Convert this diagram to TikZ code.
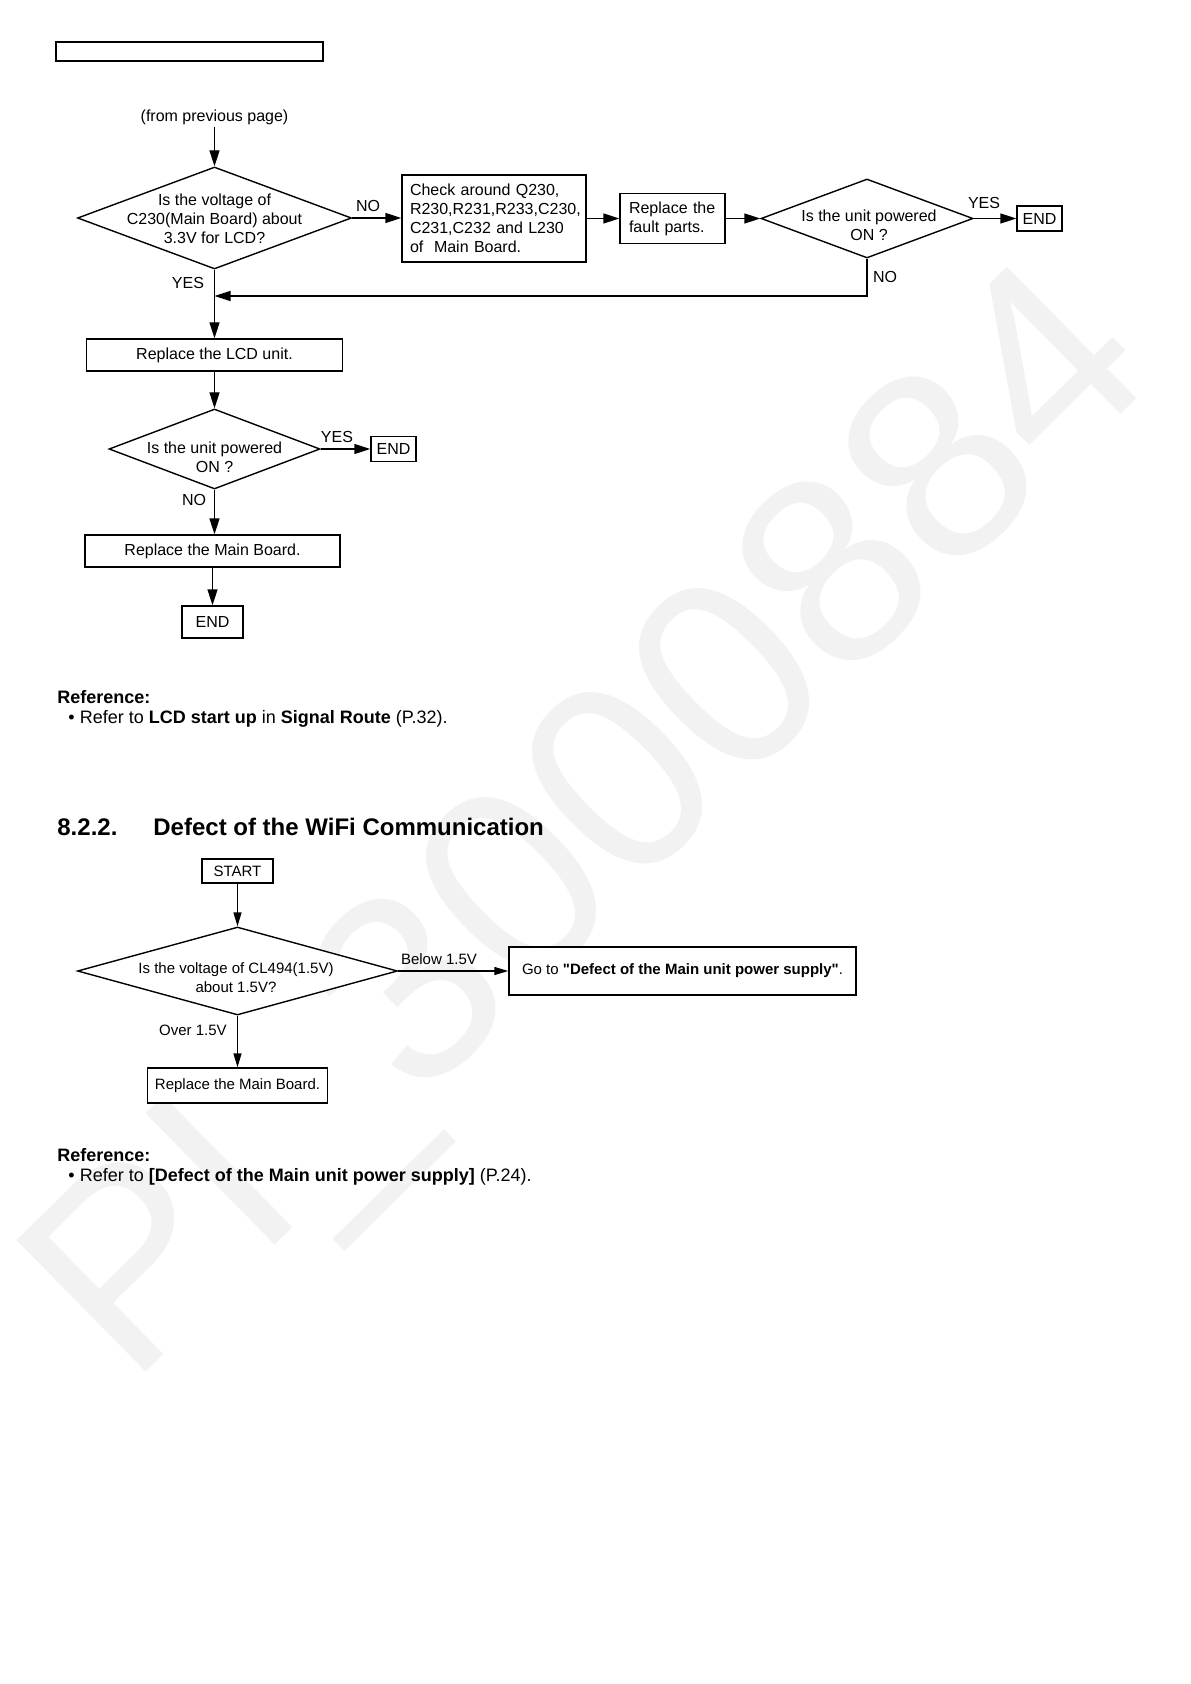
\documentclass[tikz,border=0pt]{standalone}
\usepackage{fontspec}
\setmainfont{Liberation Sans}
\usetikzlibrary{arrows.meta,shapes.geometric}
\newcommand\chartfont{\fontsize{8}{9.5}\selectfont}
\newcommand\wififont{\fontsize{7.5}{9.5}\selectfont}
\newcommand\bodyfont{\fontsize{9}{11}\selectfont}
\newcommand\headfont{\fontsize{12}{14}\selectfont\bfseries}
\newcommand\markfont{\fontsize{134}{136}\selectfont}
\begin{document}
\begin{tikzpicture}[x=0.5pt,y=-0.5pt,
  box/.style={draw, fill=white, line width=0.7pt, inner sep=0pt, font=\chartfont},
  wbox/.style={draw, fill=white, line width=0.7pt, inner sep=0pt, font=\wififont},
  dia/.style={draw, fill=white, shape=diamond, line width=0.7pt, inner sep=0pt},
  lbl/.style={inner sep=0pt, font=\chartfont},
  wlbl/.style={inner sep=0pt, font=\wififont},
  arr/.style={line width=0.7pt, -{Triangle[length=8pt,width=5pt]}},
  warr/.style={line width=0.7pt, -{Triangle[length=7pt,width=4pt]}},
  body/.style={anchor=base west, inner sep=0pt, font=\bodyfont}
]
\fill[white] (0,0) rectangle (1190,1684);
\useasboundingbox (0,0) rectangle (1190,1684);

% watermark
\node[rotate=44.5, anchor=base west, text=black!5, font=\markfont, inner sep=0pt] (wm) at (130,1388) {PI\_3000884};

% header box
\node[draw, line width=0.6pt, minimum width=133.5pt, minimum height=9.5pt, inner sep=0pt] (hdr) at (189.5,51.5) {};

% ---------- chart 1 ----------
\node[lbl] (prev) at (214.5,117) {(from previous page)};
\node[dia, minimum width=137pt, minimum height=51pt] (d1) at (214.5,218) {};
\node[lbl, align=center] (d1t) at (214.5,219) {Is the voltage of\\C230(Main Board) about\\3.3V for LCD?};
\node[box, minimum width=92pt, minimum height=43.5pt, text width=84pt, align=left] (chk) at (494,218.5) {Check around Q230,\\R230,R231,R233,C230,\\C231,C232 and L230\\of\ \ Main Board.};
\node[box, minimum width=52.5pt, minimum height=25pt, text width=43.5pt, align=left] (rep) at (672.5,218.5) {Replace the\\fault parts.};
\node[dia, minimum width=106pt, minimum height=39.5pt] (d2) at (867,218.5) {};
\node[lbl, align=center] (d2t) at (869,225.5) {Is the unit powered\\ON ?};
\node[box, minimum width=22.5pt, minimum height=12.5pt] (end1) at (1039.5,218.5) {END};
\node[box, minimum width=128pt, minimum height=16pt] (lcd) at (214.5,355) {Replace the LCD unit.};
\node[dia, minimum width=105.5pt, minimum height=40pt] (d3) at (214.5,449) {};
\node[lbl, align=center] (d3t) at (214.5,457.5) {Is the unit powered\\ON ?};
\node[box, minimum width=22.5pt, minimum height=12.5pt] (end2) at (393.5,449) {END};
\node[box, minimum width=127.5pt, minimum height=16pt] (mb) at (212.5,551) {Replace the Main Board.};
\node[box, minimum width=30.5pt, minimum height=16pt] (end3) at (212.5,622) {END};

\node[lbl] (no1) at (368,206) {NO};
\node[lbl] (yes1) at (188,283) {YES};
\node[lbl] (yes2) at (984,203) {YES};
\node[lbl] (no2) at (885,277) {NO};
\node[lbl] (yes3) at (337,437) {YES};
\node[lbl] (no3) at (194,500) {NO};

\draw[arr] ([yshift=-1pt]prev.south) -- (d1.north);
\draw[arr] (d1.east) -- (d1.east -| chk.west);
\draw[arr] (chk.east) -- (chk.east -| rep.west);
\draw[arr] (rep.east) -- (d2.west);
\draw[arr] (d2.east) -- (end1.west);
\draw[arr] (d1.south) -- (lcd.north);
\coordinate (join) at (214.5,296);
\draw[arr] (d2.south) |- (join);
\draw[arr] (lcd.south) -- (d3.north);
\draw[arr] (d3.east) -- (end2.west);
\draw[arr] (d3.south) -- (d3.south |- mb.north);
\draw[arr] (mb.south) -- (end3.north);

% reference 1
\node[body, font=\bodyfont\bfseries] (ref1) at (57,703.5) {Reference:};
\node[body] (ref1b) at (68,723.5) {\textbullet\hspace{2.6pt}Refer to \textbf{LCD start up} in \textbf{Signal Route} (P.32).};

% heading
\node[anchor=base west, inner sep=0pt, font=\headfont] (secno) at (57,835) {8.2.2.};
\node[anchor=base west, inner sep=0pt, font=\headfont] (sectitle) at (153,835) {Defect of the WiFi Communication};

% ---------- chart 2 ----------
\node[wbox, minimum width=35.5pt, minimum height=12pt] (start) at (237.5,871) {START};
\node[dia, minimum width=160pt, minimum height=44pt] (d4) at (237.5,971) {};
\node[wlbl, align=center] (d4t) at (236,977.5) {Is the voltage of CL494(1.5V)\\about 1.5V?};
\node[wbox, minimum width=173.5pt, minimum height=24pt] (goto) at (682.5,971) {Go to \textbf{\textquotedbl Defect of the Main unit power supply\textquotedbl}.};
\node[wbox, minimum width=90pt, minimum height=17.5pt] (mb2) at (237.5,1085.5) {Replace the Main Board.};
\node[wlbl] (below) at (439,959) {Below 1.5V};
\node[wlbl] (over) at (193,1030) {Over 1.5V};

\draw[warr] (start.south) -- (d4.north);
\draw[warr] (d4.east) -- (goto.west);
\draw[warr] (d4.south) -- (mb2.north);

% reference 2
\node[body, font=\bodyfont\bfseries] (ref2) at (57,1161.5) {Reference:};
\node[body] (ref2b) at (68,1181.5) {\textbullet\hspace{2.6pt}Refer to \textbf{[Defect of the Main unit power supply]} (P.24).};
\end{tikzpicture}
\end{document}
